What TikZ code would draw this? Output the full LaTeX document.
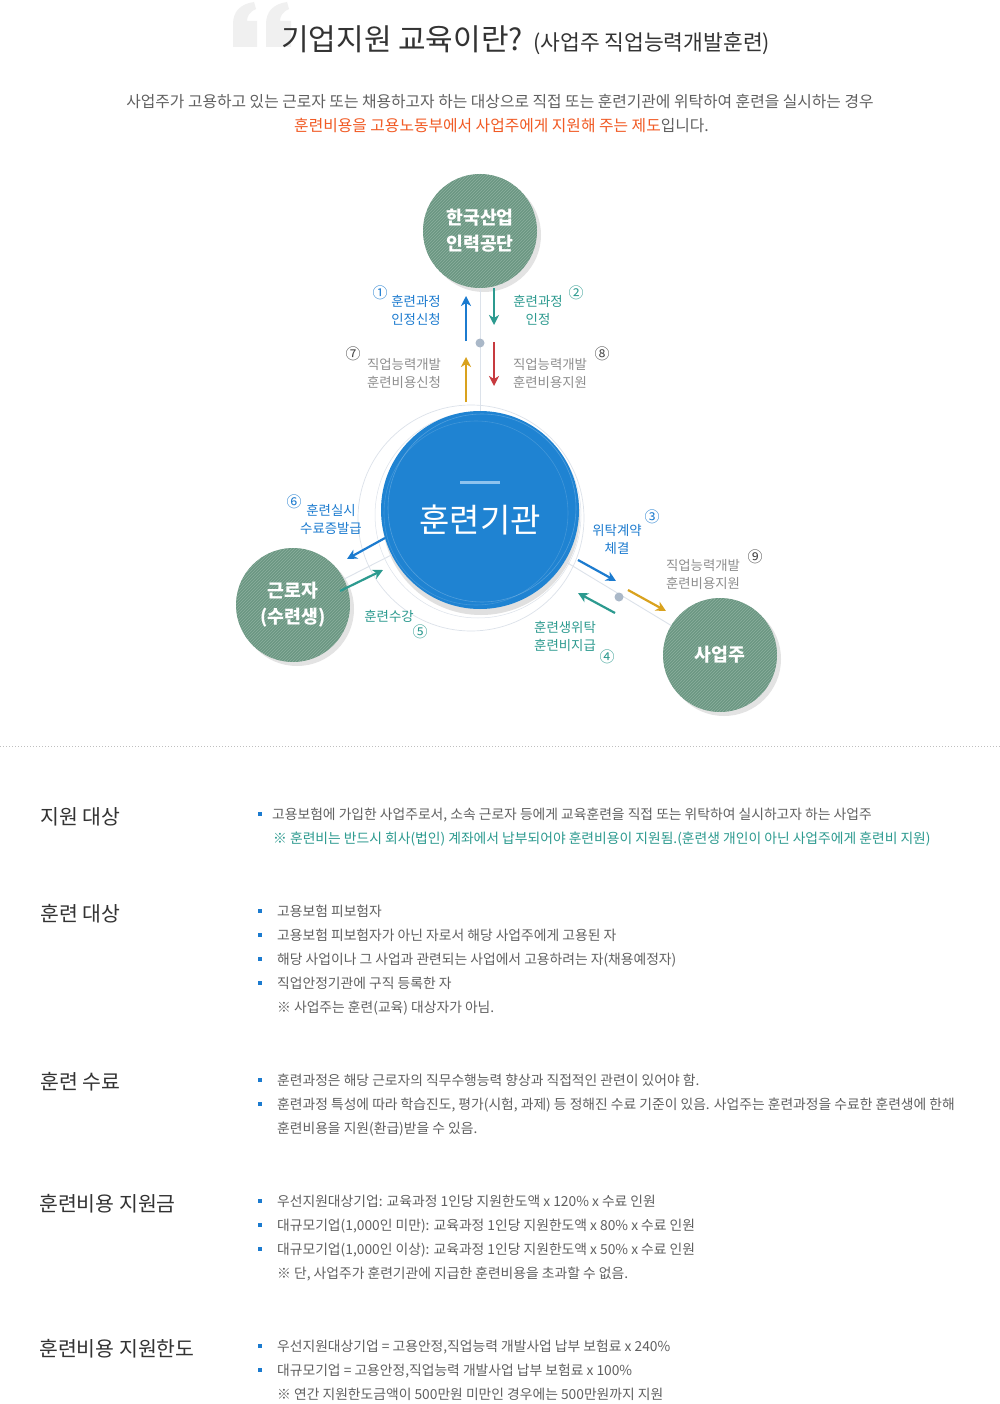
\documentclass[tikz,border=0pt]{standalone}
\usepackage{fontspec}
\setmainfont{Noto Sans CJK KR}
\usetikzlibrary{patterns,arrows.meta}
\definecolor{tgreen}{HTML}{6B9682}
\definecolor{tgreenl}{HTML}{8DB09F}
\definecolor{tblue}{HTML}{1F83D2}
\definecolor{ablue}{HTML}{1C7BCF}
\definecolor{tteal}{HTML}{2C9A8F}
\definecolor{tgold}{HTML}{D9A21E}
\definecolor{tred}{HTML}{C73A3F}
\definecolor{torange}{HTML}{F15A24}
\definecolor{tgray}{HTML}{606060}
\definecolor{lgray}{HTML}{8E8E8E}
\definecolor{dgray}{HTML}{333333}
\definecolor{ngray}{HTML}{444444}
\definecolor{dotc}{HTML}{AAB8C8}
\definecolor{ringc}{HTML}{DCE2EA}
\definecolor{quotec}{HTML}{F0F0F0}
\definecolor{barc}{HTML}{8EC3EE}
\newcommand\fsz[1]{\fontsize{#1}{#1}\selectfont}
\begin{document}
\begin{tikzpicture}[x=1pt,y=-1pt,
  txt/.style={inner sep=0pt, anchor=base},
  lab/.style={txt, font=\fsz{13.4}},
  num/.style={txt, font=\fsz{15}},
  body/.style={inner sep=0pt, anchor=base west, font=\fsz{13.8}, text=tgray},
  head/.style={inner sep=0pt, anchor=base west, font=\fsz{20.5}, text=dgray},
  bul/.style={fill=ablue, minimum size=4pt, inner sep=0pt},
  greenc/.style={circle, minimum size=114pt, inner sep=0pt, fill=tgreen, text=white,
     font=\bfseries\fontsize{18.3}{26}\selectfont, align=center,
     postaction={pattern=north east lines, pattern color=tgreenl}},
  shad/.style={fill=black!11},
  conn/.style={draw=ringc, line width=0.9pt},
  arr/.style={-{Stealth[length=10pt,width=10pt,inset=3pt]}, line width=2.2pt},
  dotn/.style={circle, fill=dotc, minimum size=9pt, inner sep=0pt}
]
\useasboundingbox (0,0) rectangle (1000,1404);
\fill[white] (0,0) rectangle (1000,1404);

% quote mark
\fill[quotec] (233,47) -- (233,24) .. controls (233,12) and (240,4) .. (254,2) -- (256,9)
   .. controls (249,12) and (247,17) .. (247,21) -- (257,21) -- (257,47) -- cycle;
\fill[quotec] (266,47) -- (266,24) .. controls (266,12) and (273,4) .. (287,2) -- (289,9)
   .. controls (282,12) and (280,17) .. (280,21) -- (291,21) -- (291,47) -- cycle;

% title
\node[inner sep=0pt, anchor=base west, font=\fsz{30}, text=dgray] (title) at (281,51) {기업지원 교육이란?};
\node[inner sep=0pt, anchor=base west, font=\fsz{21.5}, text=dgray] (subtitle) at (533,51) {(사업주 직업능력개발훈련)};
\node[txt, font=\fsz{15.8}, text=tgray] (intro1) at (500,107.8) {사업주가 고용하고 있는 근로자 또는 채용하고자 하는 대상으로 직접 또는 훈련기관에 위탁하여 훈련을 실시하는 경우};
\node[txt, font=\fsz{15.8}, text=tgray] (intro2) at (501.5,131.8) {\textcolor{torange}{훈련비용을 고용노동부에서 사업주에게 지원해 주는 제도}입니다.};

% outer rings
\draw[ringc, line width=0.7pt] (471,518) circle (113);
\draw[ringc, line width=0.5pt] (478,515) circle (103);

% shadows
\fill[shad] (484,235) circle (57);
\fill[shad] (297,609) circle (57);
\fill[shad] (724,659) circle (57);
\fill[black!12] (481,516) circle (99);

% circles
\node[greenc] (kor) at (480,231) {한국산업\\인력공단};
\node[greenc] (wrk) at (293,605) {근로자\\(수련생)};
\node[greenc] (emp) at (720,655) {사업주};
\node[circle, minimum size=198pt, inner sep=0pt, fill=tblue] (ins) at (480,510) {};

% connectors
\draw[conn] (kor) -- (ins);
\draw[conn] (wrk) -- (ins);
\draw[conn] (ins) -- (emp);

\draw[white, opacity=0.22, line width=0.6pt] (482,508) circle (94);
\draw[white, opacity=0.15, line width=0.6pt] (476,513) circle (92);
\draw[barc, line width=3pt] (460,482) -- (500,482);
\node[txt, font=\fsz{33}, text=white] (inslab) at (480,532) {훈련기관};

% dots
\node[dotn] (dot1) at (480,343) {};
\node[dotn] (dot2) at (619,597) {};

% arrows
\coordinate (a1s) at (466,341); \coordinate (a1e) at (466,296);
\coordinate (a2s) at (494,288); \coordinate (a2e) at (494,325);
\coordinate (a7s) at (466,402); \coordinate (a7e) at (466,357);
\coordinate (a8s) at (494,342); \coordinate (a8e) at (494,386);
\coordinate (a6s) at (385,538); \coordinate (a6e) at (347,559);
\coordinate (a5s) at (340,591); \coordinate (a5e) at (383,570);
\coordinate (a3s) at (578,560); \coordinate (a3e) at (616,581);
\coordinate (a4s) at (615,613); \coordinate (a4e) at (578,593);
\coordinate (a9s) at (628,590); \coordinate (a9e) at (666,611);
\draw[arr, ablue] (a1s) -- (a1e);
\draw[arr, tteal] (a2s) -- (a2e);
\draw[arr, tgold] (a7s) -- (a7e);
\draw[arr, tred] (a8s) -- (a8e);
\draw[arr, ablue] (a6s) -- (a6e);
\draw[arr, tteal] (a5s) -- (a5e);
\draw[arr, ablue] (a3s) -- (a3e);
\draw[arr, tteal] (a4s) -- (a4e);
\draw[arr, tgold] (a9s) -- (a9e);

% labels
\node[num, text=ablue] (n1) at (380,298.5) {①};
\node[lab, text=ablue] (l1a) at (416,306) {훈련과정};
\node[lab, text=ablue] (l1b) at (416,324) {인정신청};
\node[num, text=tteal] (n2) at (576,298.5) {②};
\node[lab, text=tteal] (l2a) at (538,306) {훈련과정};
\node[lab, text=tteal] (l2b) at (538,324) {인정};
\node[num, text=ngray] (n7) at (353,359.5) {⑦};
\node[lab, text=lgray] (l7a) at (404,369) {직업능력개발};
\node[lab, text=lgray] (l7b) at (404,387) {훈련비용신청};
\node[num, text=ngray] (n8) at (602,359.5) {⑧};
\node[lab, text=lgray] (l8a) at (550,369) {직업능력개발};
\node[lab, text=lgray] (l8b) at (550,387) {훈련비용지원};
\node[num, text=ablue] (n6) at (294,507.5) {⑥};
\node[lab, text=ablue] (l6a) at (331,515) {훈련실시};
\node[lab, text=ablue] (l6b) at (331,533) {수료증발급};
\node[num, text=tteal] (n5) at (420,637.5) {⑤};
\node[lab, text=tteal] (l5a) at (389,621) {훈련수강};
\node[num, text=ablue] (n3) at (652,522.5) {③};
\node[lab, text=ablue] (l3a) at (617,535) {위탁계약};
\node[lab, text=ablue] (l3b) at (617,553) {체결};
\node[num, text=tteal] (n4) at (607,662.5) {④};
\node[lab, text=tteal] (l4a) at (565,632) {훈련생위탁};
\node[lab, text=tteal] (l4b) at (565,650) {훈련비지급};
\node[num, text=ngray] (n9) at (755,562.5) {⑨};
\node[lab, text=lgray] (l9a) at (703,570) {직업능력개발};
\node[lab, text=lgray] (l9b) at (703,588) {훈련비용지원};

% separator
\draw[black!25, line width=0.8pt, dash pattern=on 1pt off 2pt] (0,746) -- (1000,746);

% section 1
\node[head] (h1) at (40,824.5) {지원 대상};
\node[bul] (b11) at (260,814) {};
\node[body] (t11) at (272,819) {고용보험에 가입한 사업주로서, 소속 근로자 등에게 교육훈련을 직접 또는 위탁하여 실시하고자 하는 사업주};
\node[body, text=tteal] (t12) at (273,843) {※ 훈련비는 반드시 회사(법인) 계좌에서 납부되어야 훈련비용이 지원됨.(훈련생 개인이 아닌 사업주에게 훈련비 지원)};

% section 2
\node[head] (h2) at (40,921.5) {훈련 대상};
\node[bul] (b21) at (260,911) {};
\node[bul] (b22) at (260,935) {};
\node[bul] (b23) at (260,959) {};
\node[bul] (b24) at (260,983) {};
\node[body] (t21) at (277,916) {고용보험 피보험자};
\node[body] (t22) at (277,940) {고용보험 피보험자가 아닌 자로서 해당 사업주에게 고용된 자};
\node[body] (t23) at (277,964) {해당 사업이나 그 사업과 관련되는 사업에서 고용하려는 자(채용예정자)};
\node[body] (t24) at (277,988) {직업안정기관에 구직 등록한 자};
\node[body] (t25) at (277,1012) {※ 사업주는 훈련(교육) 대상자가 아님.};

% section 3
\node[head] (h3) at (40,1089.5) {훈련 수료};
\node[bul] (b31) at (260,1080) {};
\node[bul] (b32) at (260,1104) {};
\node[body] (t31) at (277,1085) {훈련과정은 해당 근로자의 직무수행능력 향상과 직접적인 관련이 있어야 함.};
\node[body] (t32) at (277,1109) {훈련과정 특성에 따라 학습진도, 평가(시험, 과제) 등 정해진 수료 기준이 있음. 사업주는 훈련과정을 수료한 훈련생에 한해};
\node[body] (t33) at (277,1133) {훈련비용을 지원(환급)받을 수 있음.};

% section 4
\node[head] (h4) at (39,1211.5) {훈련비용 지원금};
\node[bul] (b41) at (260,1201) {};
\node[bul] (b42) at (260,1225) {};
\node[bul] (b43) at (260,1249) {};
\node[body] (t41) at (277,1206) {우선지원대상기업: 교육과정 1인당 지원한도액 x 120\% x 수료 인원};
\node[body] (t42) at (277,1230) {대규모기업(1,000인 미만): 교육과정 1인당 지원한도액 x 80\% x 수료 인원};
\node[body] (t43) at (277,1254) {대규모기업(1,000인 이상): 교육과정 1인당 지원한도액 x 50\% x 수료 인원};
\node[body] (t44) at (277,1278) {※ 단, 사업주가 훈련기관에 지급한 훈련비용을 초과할 수 없음.};

% section 5
\node[head] (h5) at (39,1356.5) {훈련비용 지원한도};
\node[bul] (b51) at (260,1346) {};
\node[bul] (b52) at (260,1370) {};
\node[body] (t51) at (277,1351) {우선지원대상기업 = 고용안정,직업능력 개발사업 납부 보험료 x 240\%};
\node[body] (t52) at (277,1375) {대규모기업 = 고용안정,직업능력 개발사업 납부 보험료 x 100\%};
\node[body] (t53) at (277,1399) {※ 연간 지원한도금액이 500만원 미만인 경우에는 500만원까지 지원};
\end{tikzpicture}
\end{document}
